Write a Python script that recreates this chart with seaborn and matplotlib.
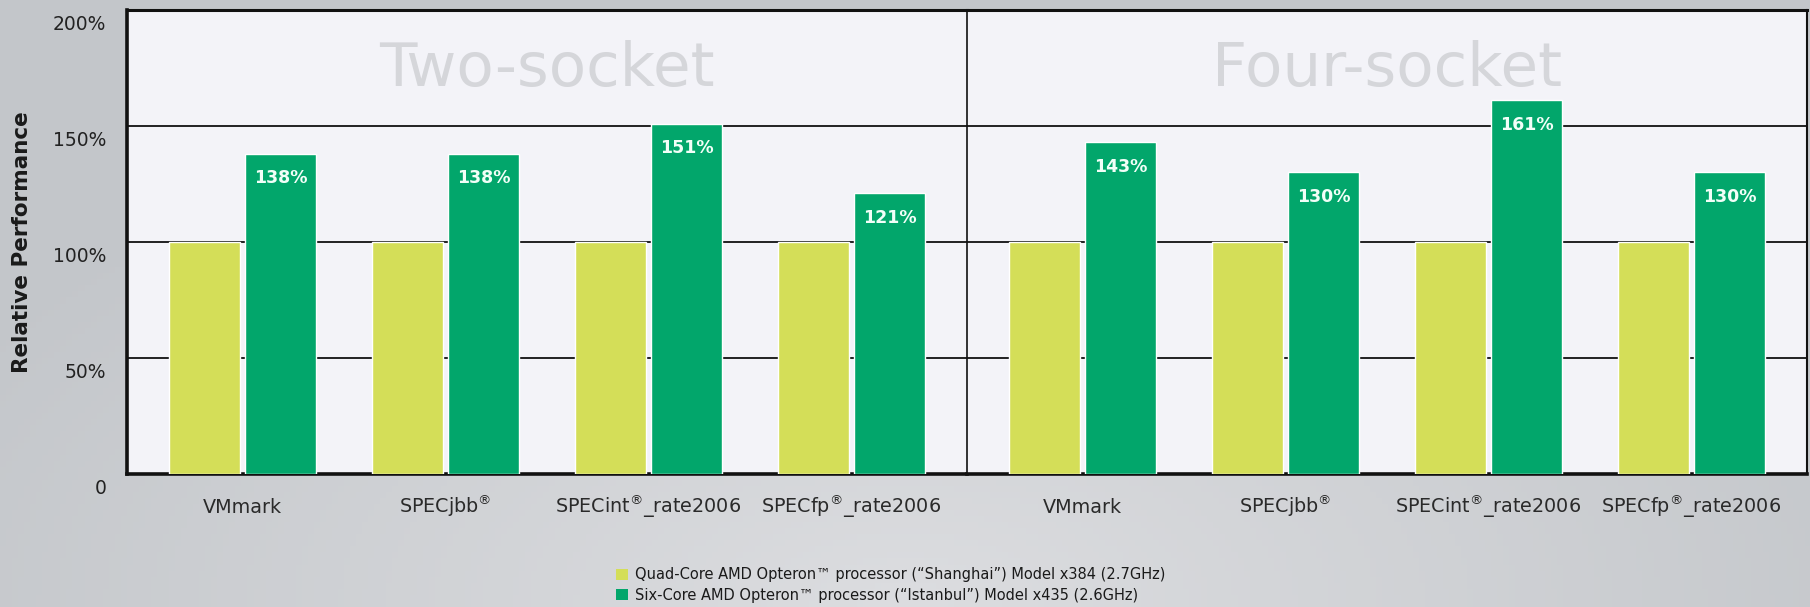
import numpy as np
import pandas as pd
import matplotlib
matplotlib.use("Agg")
import matplotlib.pyplot as plt
import matplotlib.transforms as mtransforms
from matplotlib.patches import Patch
import seaborn as sns

# Benchmark results, normalised to the quad-core baseline (= 100%)
configs = ["Two-socket", "Four-socket"]
benchmarks = ["VMmark", "SPECjbb$^{\u00ae}$", "SPECint$^{\u00ae}$_rate2006", "SPECfp$^{\u00ae}$_rate2006"]
processors = [
    "Quad-Core AMD Opteron\u2122 processor (\u201cShanghai\u201d) Model x384 (2.7GHz)",
    "Six-Core AMD Opteron\u2122 processor (\u201cIstanbul\u201d) Model x435 (2.6GHz)",
]
shanghai_two = [100, 100, 100, 100]
istanbul_two = [138, 138, 151, 121]
shanghai_four = [100, 100, 100, 100]
istanbul_four = [143, 130, 161, 130]
y_ticks = [0, 50, 100, 150, 200]
y_tick_labels = ["0", "50%", "100%", "150%", "200%"]

colors = ["#d4de58", "#02a66b"]

rows = []
for cfg, base, new in [("Two-socket", shanghai_two, istanbul_two),
                       ("Four-socket", shanghai_four, istanbul_four)]:
    for b, v0, v1 in zip(benchmarks, base, new):
        rows.append({"config": cfg, "benchmark": b, "processor": processors[0], "value": v0})
        rows.append({"config": cfg, "benchmark": b, "processor": processors[1], "value": v1})
df = pd.DataFrame(rows)

sns.set_theme(style="white")
plt.rcParams["font.family"] = ["DejaVu Sans"]
plt.rcParams["mathtext.fontset"] = "dejavusans"

W, H = 1810, 607
fig = plt.figure(figsize=(W / 100, H / 100), dpi=100)

# soft grey page background, a little lighter towards the bottom centre
bg = fig.add_axes([0, 0, 1, 1], zorder=-10)
gx, gy = np.meshgrid(np.linspace(0, 1, 300), np.linspace(0, 1, 100))
dist = np.sqrt(((gx - 0.5) / 0.6) ** 2 + ((gy - 0.0) / 0.9) ** 2)
light = np.clip(1 - dist, 0, 1)
c0 = np.array([0xc3, 0xc6, 0xca]) / 255
c1 = np.array([0xdc, 0xdd, 0xe0]) / 255
img = c0[None, None, :] + (c1 - c0)[None, None, :] * light[:, :, None]
bg.imshow(img, origin="lower", extent=[0, 1, 0, 1], aspect="auto")
bg.set_axis_off()

left, right = 127 / W, 1807 / W
bottom, top = 1 - 474 / H, 1 - 10 / H
pw = (right - left) / 2
axes = [fig.add_axes([left, bottom, pw, top - bottom]),
        fig.add_axes([left + pw, bottom, pw, top - bottom])]

for i, (ax, cfg) in enumerate(zip(axes, configs)):
    sub = df[df["config"] == cfg]
    sns.barplot(data=sub, x="benchmark", y="value", hue="processor",
                hue_order=processors, order=benchmarks, palette=colors,
                width=0.75, gap=0.07, saturation=1, legend=False, ax=ax, zorder=3)
    ax.set_facecolor("#f3f3f8")
    ax.set_ylim(0, 200)
    ax.set_xlim(-0.57, 3.57)
    ax.set_yticks(y_ticks)
    ax.yaxis.grid(True, color="#111111", linewidth=1.3, zorder=0)
    ax.set_axisbelow(True)
    ax.set_xlabel("")
    ax.set_ylabel("")
    # category names share one baseline, whether or not they carry a superscript
    ax.tick_params(axis="x", length=0, pad=28, labelsize=13.8, labelcolor="#2a2a2a")
    for lab in ax.get_xticklabels():
        lab.set_verticalalignment("baseline")
    ax.tick_params(axis="y", length=0)
    for s in ax.spines.values():
        s.set_color("#111111")
    ax.spines["top"].set_linewidth(2.2)
    ax.spines["bottom"].set_linewidth(2.6)
    ax.spines["right"].set_linewidth(1.5)
    ax.spines["left"].set_linewidth(2.6 if i == 0 else 1.2)
    if i == 0:
        ax.spines["right"].set_visible(False)
        ax.set_yticklabels(y_tick_labels, fontsize=13.5, color="#222222")
        ax.tick_params(axis="y", pad=15)
        offset = mtransforms.ScaledTranslation(0, -12 / 100, fig.dpi_scale_trans)
        for lab in ax.get_yticklabels():
            lab.set_transform(lab.get_transform() + offset)
    else:
        ax.tick_params(axis="y", labelleft=False)

    ax.text(0.5, 0.872, cfg, transform=ax.transAxes, ha="center", va="center",
            fontsize=44, color="#d5d6da", zorder=1)

    ax.bar_label(ax.containers[1], fmt="{:.0f}%", padding=-24,
                 color="#f2fff8", fontsize=12.5, fontweight="bold")

fig.text(22 / W, 1 - 242 / H, "Relative Performance", rotation=90,
         ha="center", va="center", fontsize=15.5, fontweight="bold", color="#1a1a1a")

handles = [Patch(facecolor=c, edgecolor="none") for c in colors]
fig.legend(handles, processors, loc="center", bbox_to_anchor=(0.492, 1 - 585 / H),
           ncol=1, frameon=False, fontsize=10.5, handlelength=0.8, handleheight=0.8,
           handletextpad=0.5, labelspacing=0.35, labelcolor="#1a1a1a")

fig.savefig("out.png", dpi=100)
